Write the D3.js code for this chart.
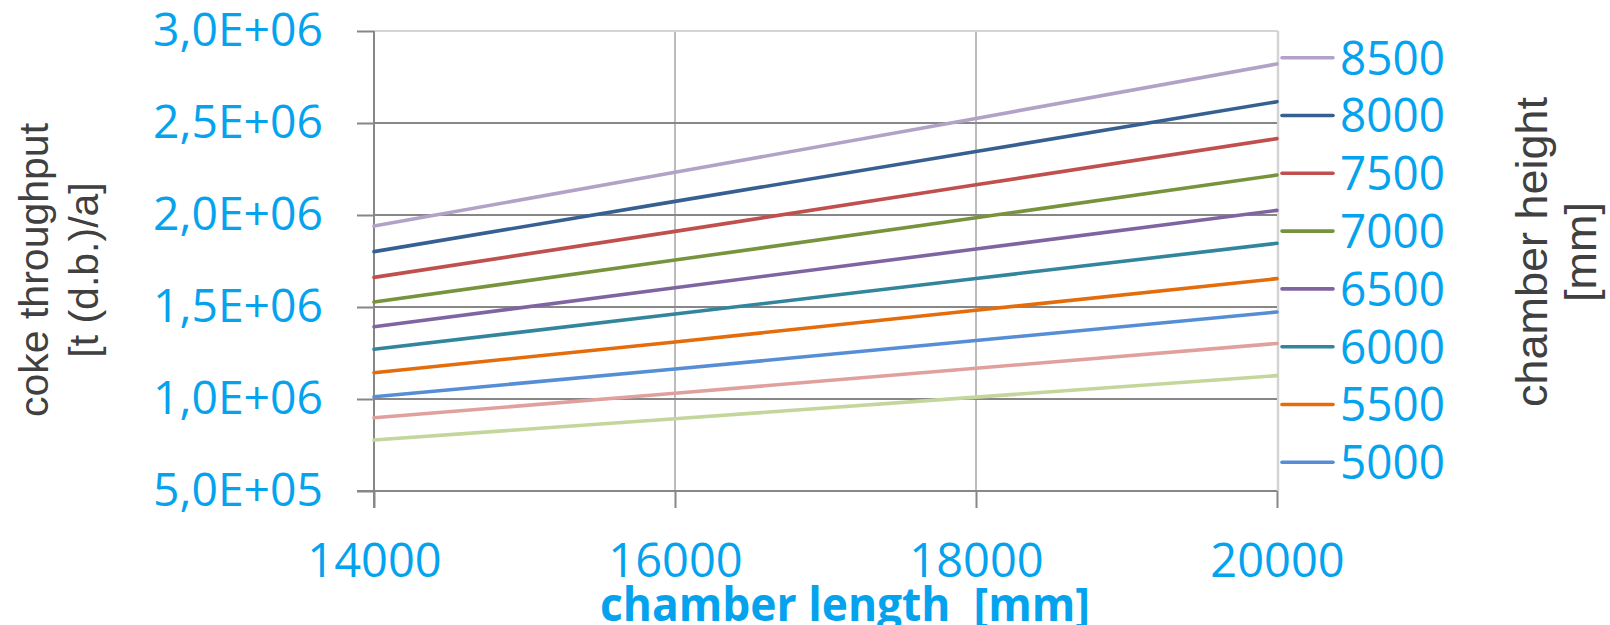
<!DOCTYPE html>
<html>
<head>
<meta charset="utf-8">
<script src="https://cdn.jsdelivr.net/npm/d3@7"></script>
<style>
  html, body { margin: 0; padding: 0; background: #ffffff; }
  svg { display: block; }
</style>
</head>
<body>
<svg id="chart" width="1610" height="625"></svg>
<script>
// ---------------- data ----------------
const chamberLength = [14000, 16000, 18000, 20000];
const seriesNames = ["8500", "8000", "7500", "7000", "6500", "6000", "5500", "5000", "4500", "4000"];
const seriesColors = ["#b3a2c7", "#376092", "#c0504d", "#77933c", "#8064a2", "#31859c", "#e46c0a", "#558ed5", "#e0a09e", "#c3d69b"];
const h8500 = [1.940e6, 2.232e6, 2.525e6, 2.821e6];
const h8000 = [1.801e6, 2.074e6, 2.345e6, 2.616e6];
const h7500 = [1.661e6, 1.911e6, 2.164e6, 2.415e6];
const h7000 = [1.527e6, 1.755e6, 1.985e6, 2.217e6];
const h6500 = [1.393e6, 1.605e6, 1.815e6, 2.025e6];
const h6000 = [1.270e6, 1.462e6, 1.655e6, 1.846e6];
const h5500 = [1.143e6, 1.310e6, 1.482e6, 1.654e6];
const h5000 = [1.012e6, 1.163e6, 1.318e6, 1.473e6];
const h4500 = [0.898e6, 1.031e6, 1.167e6, 1.302e6];
const h4000 = [0.777e6, 0.893e6, 1.010e6, 1.127e6];
const seriesValues = [h8500, h8000, h7500, h7000, h6500, h6000, h5500, h5000, h4500, h4000];
const legendShown = ["8500", "8000", "7500", "7000", "6500", "6000", "5500", "5000"];
const xTicks = [14000, 16000, 18000, 20000];
const yTicks = [5e5, 1.0e6, 1.5e6, 2.0e6, 2.5e6, 3.0e6];
const xTitle = "chamber length  [mm]";
const yTitleLines = ["coke throughput", "[t (d.b.)/a]"];
const legendTitleLines = ["chamber height", "[mm]"];

// ---------------- layout ----------------
const BLUE = "#05a3ee";
const AXIS = "#878787";
const plot = { left: 374, right: 1277, top: 31, bottom: 491 };

const svg = d3.select("#chart");
const x = d3.scaleLinear().domain([14000, 20000]).range([plot.left, plot.right]);
const y = d3.scaleLinear().domain([5e5, 3e6]).range([plot.bottom, plot.top]);

function sci(v) {
  const s = v.toExponential(1);            // e.g. 3.0e+6
  const [m, e] = s.split("e");
  const sign = e[0] === "-" ? "-" : "+";
  const ex = Math.abs(parseInt(e, 10)).toString().padStart(2, "0");
  return m.replace(".", ",") + "E" + sign + ex;
}

// vertical gridlines (light)
svg.append("g").selectAll("line").data(xTicks.slice(1, -1)).join("line")
  .attr("x1", d => x(d)).attr("x2", d => x(d))
  .attr("y1", plot.top).attr("y2", plot.bottom)
  .attr("stroke", "#bcbcbc").attr("stroke-width", 2);

// plot border top/right (light)
svg.append("line").attr("x1", plot.left).attr("x2", plot.right + 1)
  .attr("y1", y(3e6)).attr("y2", y(3e6)).attr("stroke", "#d4d4d4").attr("stroke-width", 2);
svg.append("line").attr("x1", plot.right + 1).attr("x2", plot.right + 1)
  .attr("y1", plot.top).attr("y2", plot.bottom).attr("stroke", "#d4d4d4").attr("stroke-width", 2.5);

// horizontal gridlines (dark)
svg.append("g").selectAll("line").data(yTicks.slice(1, -1)).join("line")
  .attr("x1", plot.left).attr("x2", plot.right)
  .attr("y1", d => y(d)).attr("y2", d => y(d))
  .attr("stroke", AXIS).attr("stroke-width", 2);

// y axis
const yAxis = d3.axisLeft(y).tickValues(yTicks).tickSize(17).tickPadding(34).tickFormat(sci);
const gy = svg.append("g").attr("transform", `translate(${plot.left},0)`).call(yAxis);
gy.select(".domain").remove();
gy.selectAll(".tick line").attr("stroke", AXIS).attr("stroke-width", 2);
gy.selectAll(".tick text")
  .attr("fill", BLUE).attr("font-family", "'Open Sans', sans-serif").attr("font-size", 46)
  .attr("dy", "0.32em")
  .attr("textLength", 170).attr("lengthAdjust", "spacingAndGlyphs");
gy.append("line").attr("x1", 0).attr("x2", 0).attr("y1", plot.top).attr("y2", plot.bottom + 17)
  .attr("stroke", AXIS).attr("stroke-width", 2);

// x axis
const xAxis = d3.axisBottom(x).tickValues(xTicks).tickSize(17).tickPadding(36).tickFormat(d3.format("d"));
const gx = svg.append("g").attr("transform", `translate(0,${plot.bottom})`).call(xAxis);
gx.select(".domain").remove();
gx.selectAll(".tick line").attr("stroke", AXIS).attr("stroke-width", 2);
gx.selectAll(".tick text")
  .attr("fill", BLUE).attr("font-family", "'Open Sans', sans-serif").attr("font-size", 47)
  .attr("dy", "0.71em");
gx.append("line").attr("x1", plot.left - 17).attr("x2", plot.right).attr("y1", 0).attr("y2", 0)
  .attr("stroke", AXIS).attr("stroke-width", 2);

// series lines
const line = d3.line().x((d, i) => x(chamberLength[i])).y(d => y(d));
svg.append("g").selectAll("path").data(seriesValues).join("path")
  .attr("d", d => line(d))
  .attr("fill", "none")
  .attr("stroke", (d, i) => seriesColors[i])
  .attr("stroke-width", 3.6)
  .attr("stroke-linecap", "round");

// legend
const legY = d3.scalePoint().domain(legendShown).range([57.7, 462.3]);
const leg = svg.append("g");
legendShown.forEach(name => {
  const i = seriesNames.indexOf(name);
  leg.append("line").attr("x1", 1282).attr("x2", 1333)
    .attr("y1", legY(name)).attr("y2", legY(name))
    .attr("stroke", seriesColors[i]).attr("stroke-width", 3.6).attr("stroke-linecap", "round");
  leg.append("text").attr("x", 1340).attr("y", legY(name)).attr("dy", "0.36em")
    .attr("fill", BLUE).attr("font-family", "'Open Sans', sans-serif").attr("font-size", 47)
    .attr("textLength", 105).attr("lengthAdjust", "spacingAndGlyphs")
    .text(name);
});

// y title
const yt = svg.append("text")
  .attr("transform", "translate(48,270) rotate(-90)")
  .attr("text-anchor", "middle").attr("fill", "#404040")
  .attr("font-family", "'Liberation Sans', Arial, sans-serif").attr("font-size", 41);
yTitleLines.forEach((t, i) => yt.append("tspan").attr("x", 0).attr("y", i * 50).text(t));

// legend title
const lt = svg.append("text")
  .attr("transform", "translate(1547,252) rotate(-90)")
  .attr("text-anchor", "middle").attr("fill", "#404040")
  .attr("font-family", "'Liberation Sans', Arial, sans-serif").attr("font-size", 45);
legendTitleLines.forEach((t, i) => lt.append("tspan").attr("x", 0).attr("y", i * 49).text(t));

// x title
svg.append("text").attr("x", 600).attr("y", 621)
  .attr("fill", BLUE).attr("font-family", "'Open Sans', sans-serif").attr("font-weight", "bold")
  .attr("font-size", 47).attr("xml:space", "preserve").style("white-space", "pre")
  .attr("textLength", 490).attr("lengthAdjust", "spacingAndGlyphs")
  .text(xTitle);
</script>
</body>
</html>
